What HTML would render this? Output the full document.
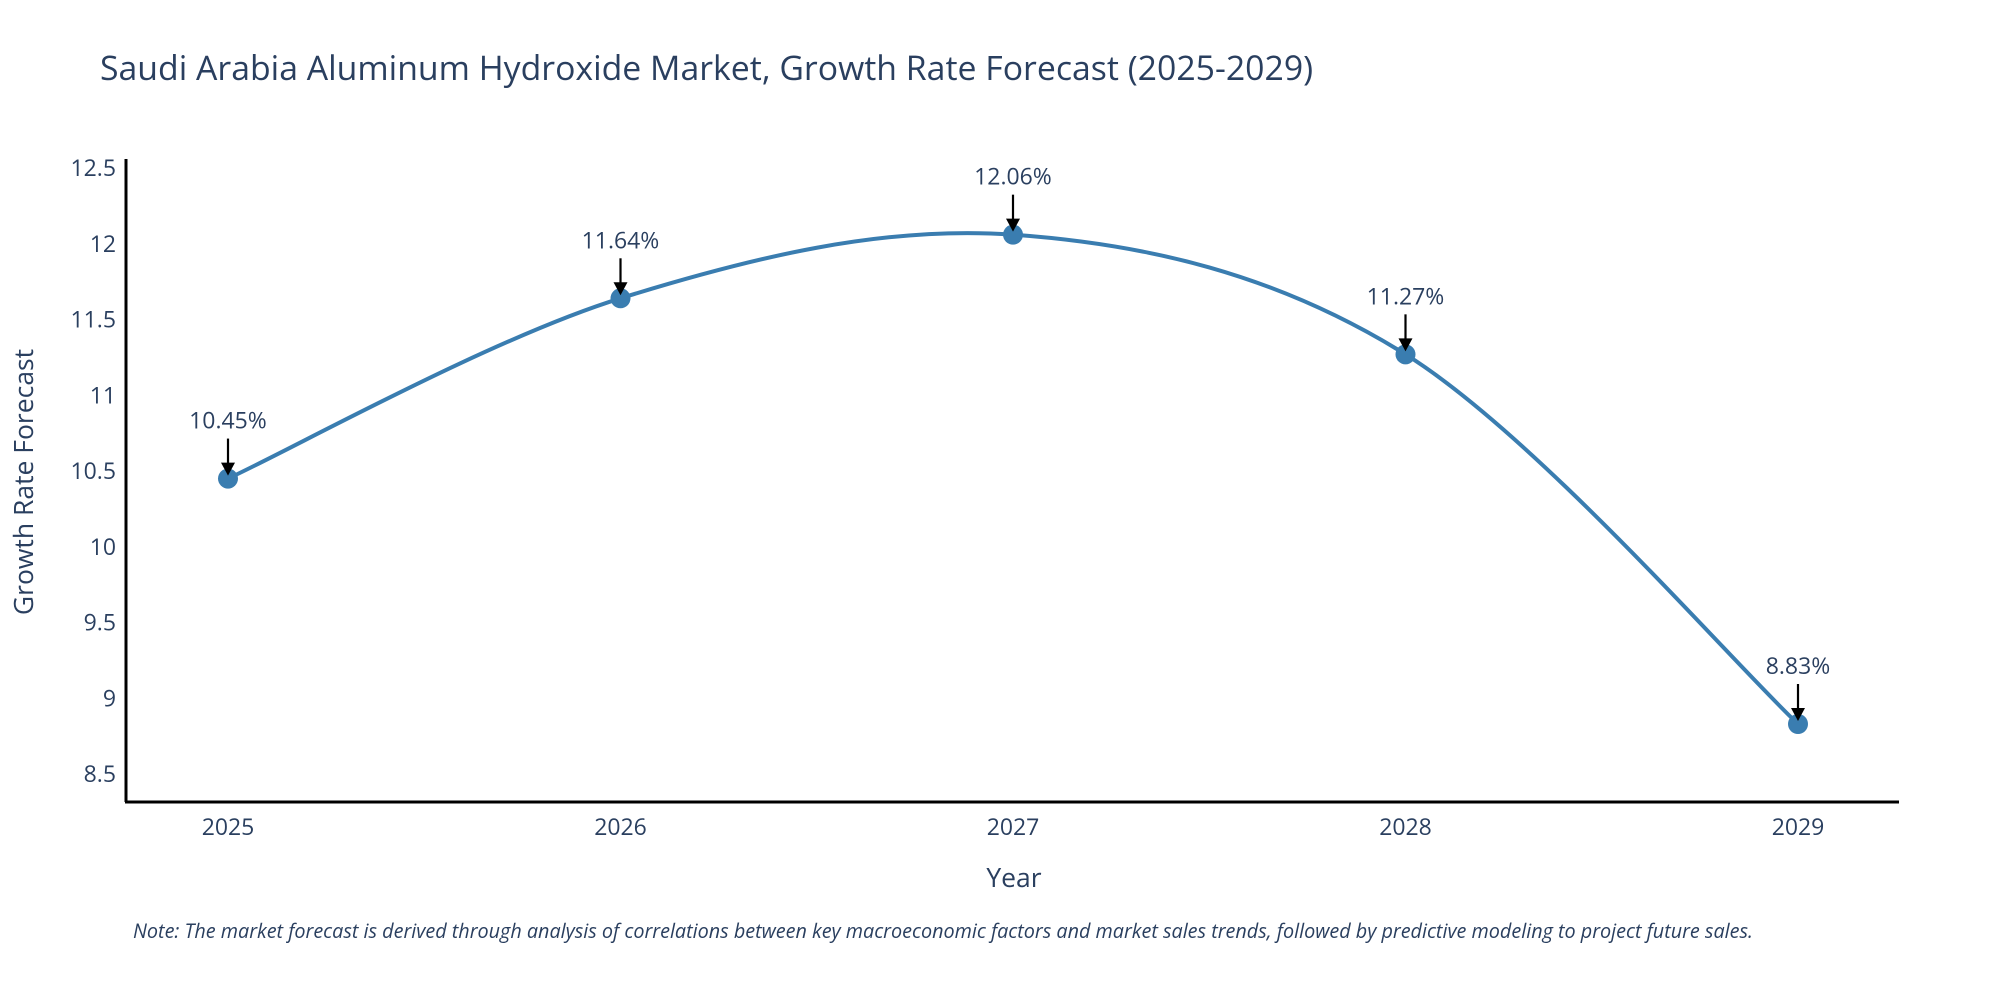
<!DOCTYPE html>
<html><head><meta charset="utf-8"><style>
body{margin:0;background:#fff;}
svg text{font-family:"Open Sans","DejaVu Sans","Liberation Sans",sans-serif;fill:#2a3f5f;}
</style></head><body>
<svg width="2000" height="1000" viewBox="0 0 2000 1000" xmlns="http://www.w3.org/2000/svg">
<text x="100" y="80" font-size="33.8">Saudi Arabia Aluminum Hydroxide Market, Growth Rate Forecast (2025-2029)</text>
<g id="yticks"></g>
<g id="xticks"></g>
<path id="line" fill="none" stroke="#3a7db0" stroke-width="4"/>
<g id="points"></g>
<g id="annots"></g>
<line x1="126" y1="159" x2="126" y2="802" stroke="#000" stroke-width="3"/>
<line x1="125" y1="802" x2="1899" y2="802" stroke="#000" stroke-width="3"/>
<text x="1014" y="887" font-size="26.5" text-anchor="middle">Year</text>
<text transform="translate(33,482) rotate(-90)" font-size="26.5" text-anchor="middle">Growth Rate Forecast</text>
<text x="133" y="938" font-size="19.8" font-style="italic">Note: The market forecast is derived through analysis of correlations between key macroeconomic factors and market sales trends, followed by predictive modeling to project future sales.</text>
</svg>
<script>
const years=["2025","2026","2027","2028","2029"];
const values=[10.45,11.64,12.06,11.27,8.83];
const yTicks=[8.5,9,9.5,10,10.5,11,11.5,12,12.5];
const ns="http://www.w3.org/2000/svg";
function X(i){return 228+i*392.5;}
function Y(v){return 774-(v-8.5)*151.5;}
function mk(t,a){const e=document.createElementNS(ns,t);for(const k in a)e.setAttribute(k,a[k]);return e;}
const yt=document.getElementById('yticks');
yTicks.forEach(v=>{const t=mk('text',{x:116,y:Y(v)+8,'font-size':23,'text-anchor':'end'});t.textContent=String(v);


yt.appendChild(t);});
const xt=document.getElementById('xticks');
years.forEach((y,i)=>{const t=mk('text',{x:X(i),y:835,'font-size':23,'text-anchor':'middle'});t.textContent=y;


xt.appendChild(t);});
const P=values.map((v,i)=>[X(i),Y(v)]);
let d='M'+P[0][0]+','+P[0][1];
for(let i=0;i<P.length-1;i++){const p0=P[Math.max(0,i-1)],p1=P[i],p2=P[i+1],p3=P[Math.min(P.length-1,i+2)];
const c1=[p1[0]+(p2[0]-p0[0])/6,p1[1]+(p2[1]-p0[1])/6],c2=[p2[0]-(p3[0]-p1[0])/6,p2[1]-(p3[1]-p1[1])/6];
d+=` C${c1[0]},${c1[1]} ${c2[0]},${c2[1]} ${p2[0]},${p2[1]}`;}
document.getElementById('line').setAttribute('d',d);
const pg=document.getElementById('points'),ag=document.getElementById('annots');
P.forEach((p,i)=>{const c=mk('circle',{cx:p[0],cy:p[1],r:10,fill:'#3a7db0'});


pg.appendChild(c);
const l=mk('line',{x1:p[0],y1:p[1]-40,x2:p[0],y2:p[1]-14,stroke:'#000','stroke-width':2.2});


ag.appendChild(l);
const h=mk('polygon',{points:`${p[0]-7},${p[1]-16} ${p[0]+7},${p[1]-16} ${p[0]},${p[1]-3}`,fill:'#000'});


ag.appendChild(h);
const t=mk('text',{x:p[0],y:p[1]-50,'font-size':23,'text-anchor':'middle'});t.textContent=values[i].toFixed(2)+'%';


ag.appendChild(t);});
</script>
</body></html>
